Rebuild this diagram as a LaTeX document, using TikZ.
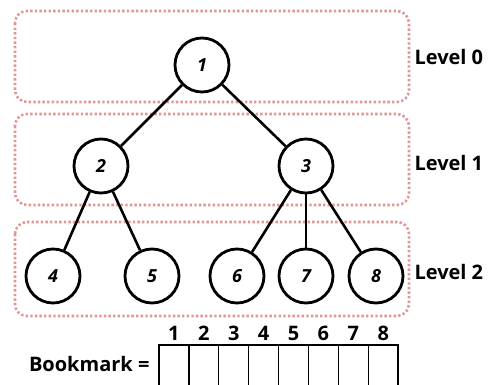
\documentclass[tikz,border=0pt]{standalone}
\usepackage{fontspec}
\setmainfont{Open Sans}
\begin{document}
\begin{tikzpicture}[x=1pt,y=-1pt,
  tnode/.style={circle,draw,line width=2.8pt,minimum size=54pt,inner sep=0pt,font=\fontsize{18}{18}\selectfont\bfseries\itshape},
  edge/.style={line width=2.6pt},
  lvlbox/.style={draw={rgb,255:red,226;green,150;blue,150},line width=2.6pt,dash pattern=on 2.4pt off 2.2pt,rounded corners=12pt},
  lvl/.style={anchor=west,font=\fontsize{20}{20}\selectfont\bfseries},
  cell/.style={line width=1.2pt},
  idx/.style={font=\fontsize{20}{20}\selectfont\bfseries}]
\useasboundingbox (0,0) rectangle (491,385);
\draw[lvlbox] (15,11) rectangle (409,102);
\draw[lvlbox] (15,114) rectangle (409,205);
\draw[lvlbox] (15,222) rectangle (409,316);
\node[lvl] (l0) at (411,57) {Level 0};
\node[lvl] (l1) at (411,163) {Level 1};
\node[lvl] (l2) at (411,272) {Level 2};
\node[tnode] (n1) at (202,65) {1};
\node[tnode] (n2) at (101,166) {2};
\node[tnode] (n3) at (306,166) {3};
\node[tnode] (n4) at (53,276) {4};
\node[tnode] (n5) at (152,276) {5};
\node[tnode] (n6) at (237,276) {6};
\node[tnode] (n7) at (306,276) {7};
\node[tnode] (n8) at (376,276) {8};
\draw[edge] (n1) -- (n2);
\draw[edge] (n1) -- (n3);
\draw[edge] (n2) -- (n4);
\draw[edge] (n2) -- (n5);
\draw[edge] (n3) -- (n6);
\draw[edge] (n3) -- (n7);
\draw[edge] (n3) -- (n8);
\node[idx,anchor=east] (bm) at (153,364) {Bookmark =};
\draw[cell] (159,385) -- (159,345) -- (398,345) -- (398,385);
\foreach \i in {1,...,8} {
  \node[idx] (c\i) at ({159+29.9*(\i-0.5)},333) {\i};
}
\foreach \i in {1,...,7} {
  \draw[cell] ({159+29.9*\i},345) -- ({159+29.9*\i},385);
}
\end{tikzpicture}
\end{document}
